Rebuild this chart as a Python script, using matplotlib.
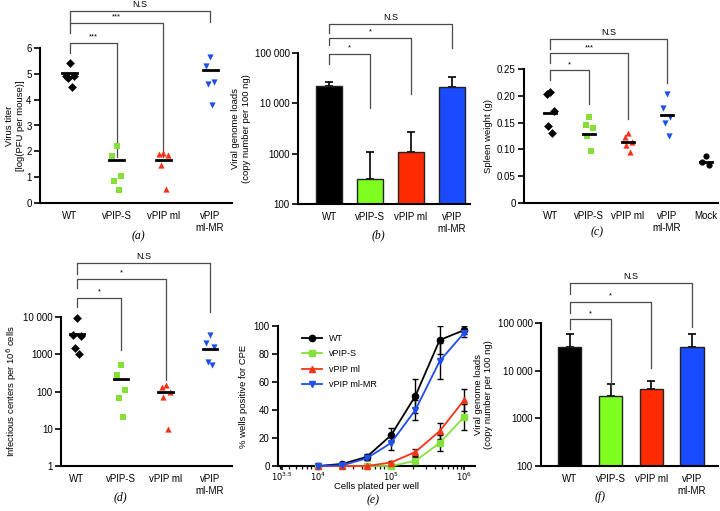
import numpy as np
import matplotlib
matplotlib.use("Agg")
import matplotlib.pyplot as plt
from matplotlib.ticker import FixedLocator, LogLocator, NullFormatter

plt.rcParams['font.family'] = ['Liberation Sans', 'DejaVu Sans']
plt.rcParams['font.size'] = 7

# ---- data ----
groups4 = ['WT', 'vPIP-S', 'vPIP ml', 'vPIP\nml-MR']
groups5 = ['WT', 'vPIP-S', 'vPIP ml', 'vPIP\nml-MR', 'Mock']

# (a) virus titer, log PFU per mouse
a_wt = [5.41, 4.93, 4.93, 4.83, 4.50]
a_s = [2.22, 1.83, 1.03, 0.84, 0.51]
a_ml = [1.92, 1.88, 1.85, 1.47, 0.55]
a_mr = [5.66, 5.32, 4.70, 4.60, 3.79]
a_mean = [5.02, 1.66, 1.66, 5.15]

# (b) viral genome loads
b_mean = [22000, 320, 1100, 21000]
b_top = [27000, 1100, 2700, 33000]

# (c) spleen weight (g)
c_wt = [0.207, 0.203, 0.171, 0.143, 0.131]
c_s = [0.161, 0.145, 0.139, 0.125, 0.097]
c_ml = [0.130, 0.124, 0.113, 0.109, 0.096]
c_mr = [0.203, 0.178, 0.161, 0.150, 0.125]
c_mock = [0.087, 0.076, 0.070]
c_mean = [0.168, 0.128, 0.113, 0.164, 0.076]

# (d) infectious centers
d_wt = [9300, 3300, 3000, 1500, 1000]
d_s = [510, 275, 110, 68, 21]
d_ml = [150, 130, 98, 72, 10]
d_mr = [3200, 1950, 1600, 630, 510]
d_mean = [3400, 215, 98, 1380]

# (e) % wells positive for CPE
cells = [10000, 21500, 46400, 100000, 215000, 464000, 1000000]
e_wt = [0, 1.5, 6.5, 22, 50, 90, 97]
e_wt_err = [0, 1, 2, 5, 12, 10, 3]
e_s = [0, 0, 0, 0, 3.6, 16.5, 35]
e_s_err = [0, 0, 0, 0, 3, 6, 9]
e_ml = [0, 0, 0, 2.5, 10, 25, 47]
e_ml_err = [0, 0, 0, 1, 2.5, 5.5, 8]
e_mr = [0, 0.5, 5.5, 16.5, 40, 75, 95]
e_mr_err = [0, 0.5, 1.5, 5, 7, 13, 3]

# (f) viral genome loads
f_mean = [32000, 2900, 4100, 32000]
f_top = [60000, 5200, 6000, 60000]

BLACK = '#000000'
GREEN = '#86E03A'
RED = '#F5331A'
BLUE = '#1E4EF0'
BAR_COLORS = ['#000000', '#7FFF1F', '#FF2A00', '#1A4BFF']
MARKERS = ['D', 's', '^', 'v', 'o']
PT_COLORS = [BLACK, GREEN, RED, BLUE, BLACK]
SPREAD = [0.0, -0.09, 0.09, -0.05, 0.05]

W, H = 720, 511
fig = plt.figure(figsize=(W / 100, H / 100), dpi=100)


def px_axes(l, t, r, b):
    return fig.add_axes([l / W, 1 - b / H, (r - l) / W, (b - t) / H])


def prism(ax):
    for s in ['top', 'right']:
        ax.spines[s].set_visible(False)
    for s in ['left', 'bottom']:
        ax.spines[s].set_linewidth(1.5)
    ax.tick_params(axis='y', direction='out', length=4, width=1.2, labelsize=7, pad=2)
    ax.tick_params(axis='x', length=0, labelsize=7, pad=6)


def bracket(ax, x2, y, yl, yr, label):
    tr = ax.get_xaxis_transform()
    ax.plot([0, 0, x2, x2], [yl, y, y, yr], color='#4a4a4a', lw=0.9,
            transform=tr, clip_on=False)
    ax.text(x2 / 2, y + 0.015, label, transform=tr, ha='center', va='bottom',
            fontsize=6.5 if label == 'N.S' else 5.5)


def dots(ax, series, means):
    for i, vals in enumerate(series):
        for j, v in enumerate(vals):
            ax.scatter(i + SPREAD[j], v, marker=MARKERS[i], s=20, color=PT_COLORS[i],
                       linewidths=0, zorder=3, clip_on=False)
        ax.plot([i - 0.16, i + 0.16], [means[i], means[i]], color='black', lw=2, zorder=4)


def panel_label(x, y, s):
    fig.text(x / W, 1 - y / H, s, ha='center', va='center', fontsize=8.5,
             family='Liberation Serif', style='italic')


# ===== (a) =====
ax = px_axes(40, 48, 232, 203)
dots(ax, [a_wt, a_s, a_ml, a_mr], a_mean)
ax.set_ylim(0, 6)
ax.set_xlim(-0.64, 3.47)
ax.set_yticks(range(7))
ax.set_xticks(range(4))
ax.set_xticklabels(groups4)
ax.set_ylabel('Virus titer\n[log(PFU per mouse)]', fontsize=6.8, labelpad=1)
prism(ax)
bracket(ax, 1, 1.032, 0.968, 0.297, '***')
bracket(ax, 2, 1.161, 1.097, 0.297, '***')
bracket(ax, 3, 1.239, 1.161, 1.168, 'N.S')
panel_label(138, 236, '(a)')


def bars(ax, means, tops, width):
    x = np.arange(len(means))
    up = np.array(tops) - np.array(means)
    ax.bar(x, means, width=width, color=BAR_COLORS, edgecolor='#222222', linewidth=1, zorder=2)
    ax.errorbar(x, means, yerr=[np.zeros(len(means)), up], fmt='none', ecolor='black',
                elinewidth=1.2, capsize=3, capthick=1.2, zorder=1)
    ax.set_yscale('log')
    ax.set_ylim(100, 100000)
    ax.yaxis.set_major_locator(FixedLocator([100, 1000, 10000, 100000]))
    ax.yaxis.set_minor_locator(FixedLocator([]))
    ax.set_yticklabels(['100', '1000', '10 000', '100 000'])
    ax.set_xticks(x)
    ax.set_xticklabels(groups4)
    ax.set_ylabel('Viral genome loads\n(copy number per 100 ng)', fontsize=6.8, labelpad=3)
    prism(ax)


# ===== (b) =====
ax = px_axes(298, 53, 470, 204)
bars(ax, b_mean, b_top, 0.62)
ax.set_xlim(-0.76, 3.44)
bracket(ax, 1, 0.993, 0.927, 0.636, '*')
bracket(ax, 2, 1.101, 1.053, 0.728, '*')
bracket(ax, 3, 1.192, 1.132, 1.033, 'N.S')
panel_label(378, 235, '(b)')

# ===== (c) =====
ax = px_axes(524, 69, 718, 203)
dots(ax, [c_wt, c_s, c_ml, c_mr, c_mock], c_mean)
ax.set_ylim(0, 0.25)
ax.set_xlim(-0.67, 4.31)
ax.set_yticks([0, 0.05, 0.10, 0.15, 0.20, 0.25])
ax.set_yticklabels(['0', '0.05', '0.10', '0.15', '0.20', '0.25'])
ax.set_xticks(range(5))
ax.set_xticklabels(groups5)
ax.set_ylabel('Spleen weight (g)', fontsize=6.8, labelpad=3)
prism(ax)
bracket(ax, 1, 0.993, 0.918, 0.739, '*')
bracket(ax, 2, 1.117, 1.043, 0.627, '***')
bracket(ax, 3, 1.221, 1.147, 0.893, 'N.S')
panel_label(597, 232, '(c)')

# ===== (d) =====
ax = px_axes(61, 317, 232, 466)
dots(ax, [d_wt, d_s, d_ml, d_mr], d_mean)
ax.set_yscale('log')
ax.set_ylim(1, 10000)
ax.set_xlim(-0.36, 3.5)
ax.yaxis.set_major_locator(FixedLocator([1, 10, 100, 1000, 10000]))
ax.yaxis.set_minor_locator(FixedLocator([]))
ax.set_yticklabels(['1', '10', '100', '1000', '10 000'])
ax.set_xticks(range(4))
ax.set_xticklabels(groups4)
ax.set_ylabel('Infectious centers per 10$^6$ cells', fontsize=6.8, labelpad=3)
prism(ax)
bracket(ax, 1, 1.13, 1.07, 0.779, '*')
bracket(ax, 2, 1.255, 1.195, 0.577, '*')
bracket(ax, 3, 1.362, 1.289, 1.036, 'N.S')
panel_label(120, 497, '(d)')

# ===== (e) =====
ax = px_axes(278, 326, 475, 466)
for vals, err, col, mk, name in [
        (e_wt, e_wt_err, BLACK, 'o', 'WT'),
        (e_s, e_s_err, GREEN, 's', 'vPIP-S'),
        (e_ml, e_ml_err, RED, '^', 'vPIP ml'),
        (e_mr, e_mr_err, BLUE, 'v', 'vPIP ml-MR')]:
    ax.errorbar(cells, vals, yerr=err, fmt='none', ecolor='black', elinewidth=1,
                capsize=2.5, capthick=1, zorder=2)
    ax.plot(cells, vals, color=col, marker=mk, markersize=4.5, lw=1.3, label=name,
            zorder=3, clip_on=False)
ax.set_xscale('log')
ax.set_xlim(10 ** 3.45, 10 ** 6.15)
ax.set_ylim(0, 100)
ax.set_yticks(range(0, 101, 20))
ax.xaxis.set_major_locator(FixedLocator([10 ** 3.5, 1e4, 1e5, 1e6]))
ax.set_xticklabels(['$10^{3.5}$', '$10^4$', '$10^5$', '$10^6$'])
ax.xaxis.set_minor_locator(LogLocator(base=10, subs=np.arange(2, 10)))
ax.xaxis.set_minor_formatter(NullFormatter())
ax.set_ylabel('% wells positive for CPE', fontsize=6.8, labelpad=4)
prism(ax)
ax.tick_params(axis='x', which='major', direction='out', length=3, width=1.2, pad=0.5,
               labelsize=6)
ax.tick_params(axis='x', which='minor', direction='out', length=2.5, width=0.9)
ax.set_xlabel('Cells plated per well', fontsize=6.8)
ax.xaxis.set_label_coords(0.5, -0.115)
ax.legend(loc='upper left', frameon=False, fontsize=6.5, handlelength=2.2,
          bbox_to_anchor=(0.08, 1.0), labelspacing=0.7)
panel_label(373, 500, '(e)')

# ===== (f) =====
ax = px_axes(541, 323, 718, 466)
bars(ax, f_mean, f_top, 0.57)
ax.set_xlim(-0.71, 3.64)
bracket(ax, 1, 1.026, 0.96, 0.555, '*')
bracket(ax, 2, 1.149, 1.07, 0.685, '*')
bracket(ax, 3, 1.278, 1.2, 0.974, 'N.S')
panel_label(600, 497, '(f)')

fig.savefig('out.png', dpi=100)
